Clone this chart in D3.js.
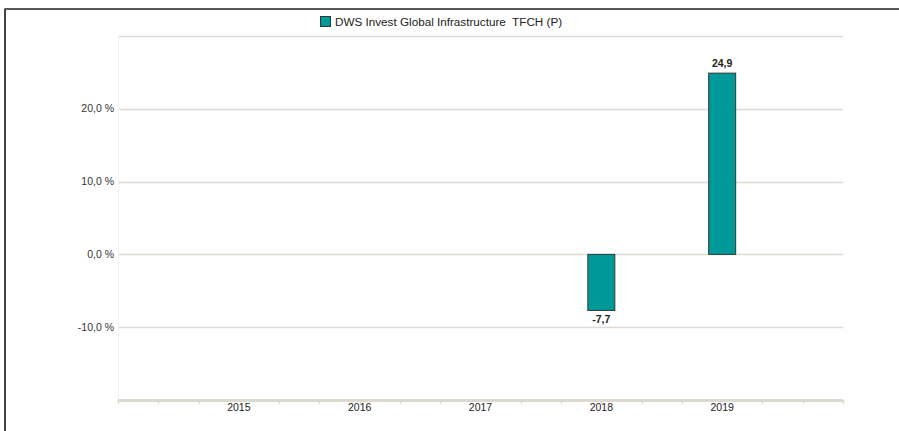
<!DOCTYPE html>
<html>
<head>
<meta charset="utf-8">
<script src="https://cdn.jsdelivr.net/npm/d3@7"></script>
<style>
  body { margin: 0; background: #fff; }
  svg { display: block; font-family: "Liberation Sans", Arial, sans-serif; }
</style>
</head>
<body>
<svg class="chart" width="899" height="431"></svg>
<script>
var years = ["2015", "2016", "2017", "2018", "2019"];
var returns = [null, null, null, -7.7, 24.9];
var yTicks = [-10, 0, 10, 20];
var seriesName = "DWS Invest Global Infrastructure  TFCH (P)";

var data = years.map(function (d, i) {
    return { year: d, value: returns[i] };
});

var svg = d3.select(".chart"),
    margin = { top: 36, right: 56, bottom: 31, left: 118 },
    width = +svg.attr("width") - margin.left - margin.right,
    height = +svg.attr("height") - margin.top - margin.bottom;

// german style numbers, plain hyphen for minus
var fmt = function (v) { return d3.format(".1f")(v).replace(".", ",").replace("\u2212", "-"); };

// frame
svg.append("line").attr("x1", 4.5).attr("x2", 899).attr("y1", 9).attr("y2", 9)
    .attr("stroke", "#222").attr("stroke-width", 1.5);
svg.append("line").attr("x1", 5).attr("x2", 5).attr("y1", 9).attr("y2", 431)
    .attr("stroke", "#444").attr("stroke-width", 2);

var x = d3.scaleBand().domain(years).range([0, width]).paddingInner(0).paddingOuter(0.5),
    y = d3.scaleLinear().domain([-20, 30]).range([height, 0]);

var g = svg.append("g")
    .attr("transform", "translate(" + margin.left + "," + margin.top + ")");

// grid lines
g.selectAll(".grid")
    .data(yTicks.concat([30]))
    .enter().append("line")
    .attr("x1", 0).attr("x2", width)
    .attr("y1", function (d) { return Math.round(y(d)) + 0.5; })
    .attr("y2", function (d) { return Math.round(y(d)) + 0.5; })
    .attr("stroke", "#dedbd4").attr("stroke-width", 1.5);

g.append("line").attr("x1", 0.5).attr("x2", 0.5).attr("y1", 0).attr("y2", height)
    .attr("stroke", "#f4f3f0");

// y labels
g.selectAll(".ylab")
    .data(yTicks)
    .enter().append("text")
    .attr("x", -4)
    .attr("y", function (d) { return y(d); })
    .attr("dy", "0.35em")
    .attr("text-anchor", "end")
    .attr("font-size", "10.5px")
    .attr("fill", "#333")
    .text(function (d) { return fmt(d) + " %"; });

// x axis, minor ticks every third of a band, none under the labels
var step = x.step();
var xa = g.append("g").attr("transform", "translate(0," + height + ")");
xa.selectAll(".tk")
    .data(d3.range(0, 19).filter(function (k) { return k % 3 !== 0 || k % 6 === 0; }))
    .enter().append("line")
    .attr("x1", function (k) { return Math.round(k * step / 3) + 0.5; })
    .attr("x2", function (k) { return Math.round(k * step / 3) + 0.5; })
    .attr("y1", 0).attr("y2", 4)
    .attr("stroke", "#dcd9d1").attr("stroke-width", 1.5);
xa.append("line").attr("x1", 0).attr("x2", width).attr("y1", 0.5).attr("y2", 0.5)
    .attr("stroke", "#dcd9d1").attr("stroke-width", 3);
xa.selectAll(".xlab")
    .data(years)
    .enter().append("text")
    .attr("x", function (d) { return x(d) + x.bandwidth() / 2; })
    .attr("y", 11)
    .attr("text-anchor", "middle")
    .attr("font-size", "10.5px")
    .attr("fill", "#222")
    .text(function (d) { return d; });

// bars
var bw = 27;
var bars = data.filter(function (d) { return d.value !== null; });
g.selectAll(".bar")
    .data(bars)
    .enter().append("rect")
    .attr("x", function (d) { return x(d.year) + x.bandwidth() / 2 - bw / 2; })
    .attr("y", function (d) { return y(Math.max(0, d.value)); })
    .attr("width", bw)
    .attr("height", function (d) { return Math.abs(y(d.value) - y(0)); })
    .attr("fill", "#009999")
    .attr("stroke", "#2a3a3a").attr("stroke-width", 1);

g.selectAll(".vlab")
    .data(bars)
    .enter().append("text")
    .attr("x", function (d) { return x(d.year) + x.bandwidth() / 2; })
    .attr("y", function (d) { return d.value >= 0 ? y(d.value) - 6 : y(d.value) + 13; })
    .attr("text-anchor", "middle")
    .attr("font-size", "10.5px")
    .attr("font-weight", "bold")
    .attr("fill", "#222")
    .text(function (d) { return fmt(d.value); });

// legend
var lg = svg.append("g").attr("transform", "translate(320,16)");
lg.append("rect").attr("x", 0.5).attr("y", 0.5).attr("width", 10).attr("height", 10)
    .attr("fill", "#009999").attr("stroke", "#2a3a3a");
lg.append("text").attr("x", 15).attr("y", 9.5)
    .attr("font-size", "11.7px").attr("fill", "#222")
    .style("white-space", "pre")
    .text(seriesName);
</script>
</body>
</html>
